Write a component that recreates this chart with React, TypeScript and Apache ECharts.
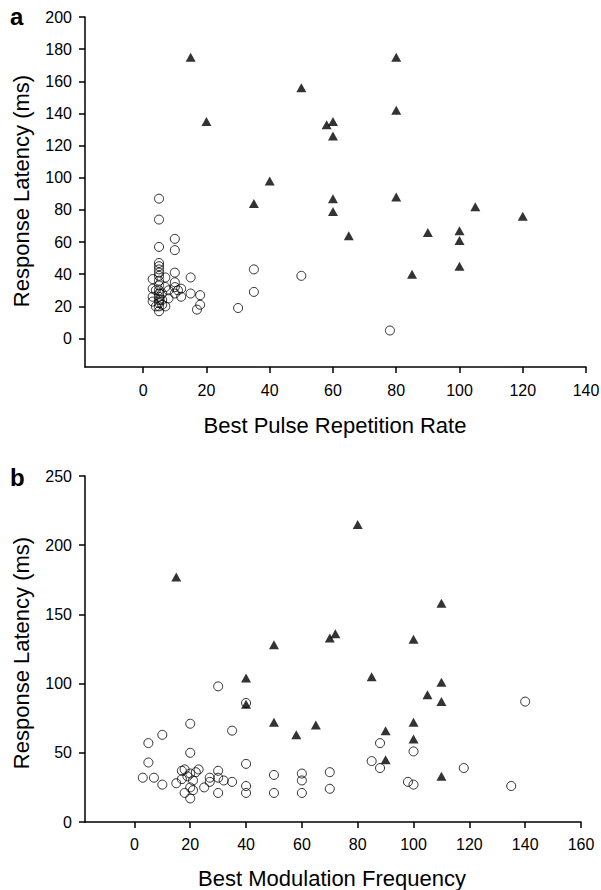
import React, { useEffect, useRef } from "react";
import * as echarts from "echarts";

// Panel a: Best Pulse Repetition Rate vs Response Latency
const aXTicks = [0, 20, 40, 60, 80, 100, 120, 140];
const aYTicks = [0, 20, 40, 60, 80, 100, 120, 140, 160, 180, 200];
const aCircles: [number, number][] = [
  [5, 87], [5, 74], [5, 57], [5, 47], [5, 45], [5, 43], [5, 41], [5, 39], [5, 36], [5, 33],
  [5, 30], [5, 28], [5, 26], [5, 24], [5, 22], [5, 20], [5, 17],
  [3, 37], [3, 31], [3, 23], [3, 26], [4, 30], [4, 20],
  [6, 28], [6, 24], [6, 21], [7, 38], [7, 32], [7, 20], [8, 25], [8, 30],
  [10, 62], [10, 55], [10, 41], [10, 35], [10, 32], [10, 28], [11, 30], [12, 31], [12, 26],
  [15, 38], [15, 28], [18, 27], [18, 21], [17, 18],
  [30, 19], [35, 43], [35, 29], [50, 39], [78, 5],
];
const aTriangles: [number, number][] = [
  [15, 175], [20, 135], [35, 84], [40, 98], [50, 156], [58, 133], [60, 135], [60, 126],
  [60, 87], [60, 79], [65, 64], [80, 175], [80, 142], [80, 88], [85, 40], [90, 66],
  [100, 67], [100, 61], [100, 45], [105, 82], [120, 76],
];

// Panel b: Best Modulation Frequency vs Response Latency
const bXTicks = [0, 20, 40, 60, 80, 100, 120, 140, 160];
const bYTicks = [0, 50, 100, 150, 200, 250];
const bCircles: [number, number][] = [
  [3, 32], [5, 57], [5, 43], [7, 32], [10, 63], [10, 27], [15, 28], [17, 31], [17, 37],
  [18, 38], [18, 21], [19, 33], [20, 71], [20, 50], [20, 35], [20, 25], [20, 17], [21, 30],
  [21, 23], [22, 36], [23, 38], [25, 25], [27, 29], [27, 32], [30, 98], [30, 37], [30, 32],
  [30, 21], [32, 30], [35, 66], [35, 29], [40, 86], [40, 42], [40, 26], [40, 21], [50, 34],
  [50, 21], [60, 35], [60, 30], [60, 21], [70, 36], [70, 24], [85, 44], [88, 57], [88, 39],
  [98, 29], [100, 51], [100, 27], [118, 39], [135, 26], [140, 87],
];
const bTriangles: [number, number][] = [
  [15, 177], [40, 104], [40, 85], [50, 128], [50, 72], [58, 63], [65, 70], [70, 133],
  [72, 136], [80, 215], [85, 105], [90, 66], [90, 45], [100, 132], [100, 72], [100, 60],
  [105, 92], [110, 158], [110, 101], [110, 87], [110, 33],
];

const FONT = "'Liberation Sans', Arial, Helvetica, sans-serif";

function axisBase(ticks: number[], margin: number) {
  return {
    type: "value" as const,
    axisLine: { show: true, onZero: false, lineStyle: { color: "#000", width: 1.5 } },
    axisTick: { show: true, inside: false, length: 6, customValues: ticks, lineStyle: { color: "#000", width: 1.5 } },
    axisLabel: { show: true, customValues: ticks, margin, color: "#000", fontSize: 16, fontFamily: FONT },
    splitLine: { show: false },
  };
}

export default function App() {
  const ref = useRef<HTMLDivElement>(null);
  useEffect(() => {
    document.body.style.margin = "0";
    if (!ref.current) return;
    const chart = echarts.init(ref.current, null, { renderer: "svg" });
    const circleStyle = { color: "rgba(0,0,0,0)", borderColor: "#000", borderWidth: 1 };
    const triStyle = { color: "#000" };
    chart.setOption({
      animation: false,
      backgroundColor: "#fff",
      grid: [
        { left: 85, top: 17, width: 501, height: 350, outerBoundsMode: "none", containLabel: false },
        { left: 85, top: 476, width: 496, height: 346, outerBoundsMode: "none", containLabel: false },
      ],
      xAxis: [
        { ...axisBase(aXTicks, 15), gridIndex: 0, min: -18.4, max: 140 },
        { ...axisBase(bXTicks, 14), gridIndex: 1, min: -17.7, max: 160 },
      ],
      yAxis: [
        { ...axisBase(aYTicks, 13), gridIndex: 0, min: -17.7, max: 200 },
        { ...axisBase(bYTicks, 13), gridIndex: 1, min: 0, max: 250 },
      ],
      series: [
        { type: "scatter", xAxisIndex: 0, yAxisIndex: 0, data: aCircles, symbol: "circle", symbolSize: 9, itemStyle: circleStyle, z: 2 },
        { type: "scatter", xAxisIndex: 0, yAxisIndex: 0, data: aTriangles, symbol: "triangle", symbolSize: [10, 9], itemStyle: triStyle, z: 3 },
        { type: "scatter", xAxisIndex: 1, yAxisIndex: 1, data: bCircles, symbol: "circle", symbolSize: 9, itemStyle: circleStyle, z: 2 },
        { type: "scatter", xAxisIndex: 1, yAxisIndex: 1, data: bTriangles, symbol: "triangle", symbolSize: [10, 9], itemStyle: triStyle, z: 3 },
      ],
      graphic: [
        { type: "text", x: 10, y: 16, style: { text: "a", fontSize: 24, fontWeight: "bold", fontFamily: FONT, fill: "#000", textAlign: "left", textVerticalAlign: "middle" } },
        { type: "text", x: 10, y: 477, style: { text: "b", fontSize: 24, fontWeight: "bold", fontFamily: FONT, fill: "#000", textAlign: "left", textVerticalAlign: "middle" } },
        { type: "text", x: 21, y: 191, rotation: Math.PI / 2, style: { text: "Response Latency (ms)", fontSize: 22, fontFamily: FONT, fill: "#000", textAlign: "center", textVerticalAlign: "middle" } },
        { type: "text", x: 21, y: 653, rotation: Math.PI / 2, style: { text: "Response Latency (ms)", fontSize: 22, fontFamily: FONT, fill: "#000", textAlign: "center", textVerticalAlign: "middle" } },
        { type: "text", x: 335, y: 425, style: { text: "Best Pulse Repetition Rate", fontSize: 22, fontFamily: FONT, fill: "#000", textAlign: "center", textVerticalAlign: "middle" } },
        { type: "text", x: 332, y: 878, style: { text: "Best Modulation Frequency", fontSize: 22, fontFamily: FONT, fill: "#000", textAlign: "center", textVerticalAlign: "middle" } },
      ],
    });
    return () => chart.dispose();
  }, []);
  return <div ref={ref} style={{ width: 601, height: 890 }} />;
}
